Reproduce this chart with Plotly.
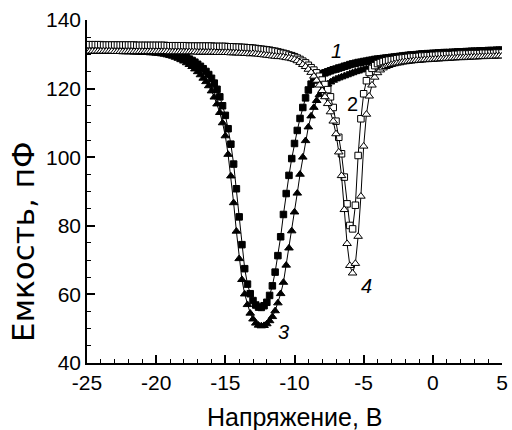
import numpy as np
import plotly.graph_objects as go

# Gate voltage sweep, 0.2 V step from -25 V to +5 V
voltage = np.round(np.linspace(-25.0, 5.0, 151), 1)

# Capacitance (pF) for the four measurements
cap_1 = [  # filled squares
    131.6, 131.6, 131.6, 131.6, 131.6, 131.5, 131.5, 131.5, 131.5, 131.5,
    131.5, 131.5, 131.4, 131.4, 131.4, 131.4, 131.4, 131.3, 131.3, 131.3,
    131.2, 131.2, 131.1, 131.1, 131.0, 131.0, 130.9, 130.8, 130.7, 130.6,
    130.4, 130.3, 130.1, 129.9, 129.7, 129.4, 129.0, 128.6, 128.2, 127.7,
    127.1, 126.5, 125.8, 125.0, 124.1, 123.0, 121.6, 119.8, 117.6, 115.0,
    112.2, 108.3, 103.8, 98.0, 90.8, 82.6, 74.5, 67.5, 63.0, 60.2,
    58.2, 56.9, 56.3, 56.2, 56.7, 57.7, 59.7, 62.5, 66.5, 71.3,
    76.8, 83.3, 89.4, 94.7, 99.6, 104.0, 107.8, 111.3, 114.5, 117.3,
    119.6, 121.3, 122.5, 123.3, 123.9, 124.3, 124.6, 124.9, 125.2, 125.5,
    125.7, 126.0, 126.2, 126.5, 126.7, 127.0, 127.2, 127.4, 127.6, 127.7,
    127.9, 128.0, 128.2, 128.3, 128.5, 128.6, 128.7, 128.8, 128.9, 129.0,
    129.1, 129.2, 129.3, 129.4, 129.5, 129.6, 129.7, 129.8, 129.8, 129.9,
    130.0, 130.1, 130.1, 130.2, 130.2, 130.3, 130.3, 130.4, 130.4, 130.5,
    130.5, 130.5, 130.6, 130.6, 130.7, 130.7, 130.7, 130.8, 130.8, 130.9,
    130.9, 130.9, 131.0, 131.0, 131.0, 131.1, 131.1, 131.1, 131.2, 131.2,
    131.2,
]
cap_2 = [  # open squares
    132.8, 132.8, 132.8, 132.8, 132.8, 132.8, 132.7, 132.7, 132.7, 132.7,
    132.7, 132.7, 132.7, 132.7, 132.7, 132.7, 132.7, 132.7, 132.6, 132.6,
    132.6, 132.6, 132.6, 132.6, 132.6, 132.6, 132.6, 132.6, 132.6, 132.5,
    132.5, 132.5, 132.5, 132.5, 132.5, 132.5, 132.5, 132.4, 132.4, 132.4,
    132.4, 132.4, 132.4, 132.4, 132.4, 132.4, 132.3, 132.3, 132.3, 132.3,
    132.3, 132.2, 132.2, 132.2, 132.1, 132.1, 132.0, 132.0, 131.9, 131.9,
    131.8, 131.7, 131.6, 131.5, 131.4, 131.3, 131.2, 131.0, 130.9, 130.7,
    130.5, 130.3, 130.1, 129.8, 129.6, 129.3, 128.9, 128.5, 128.0, 127.5,
    126.8, 126.1, 125.4, 124.6, 123.6, 122.5, 121.2, 119.7, 117.6, 114.5,
    110.5, 105.8, 101.0, 94.2, 86.4, 80.1, 79.1, 86.0, 100.5, 111.2,
    118.5, 122.3, 124.7, 125.9, 126.7, 127.3, 127.6, 127.9, 128.1, 128.3,
    128.4, 128.5, 128.7, 128.8, 128.9, 129.0, 129.1, 129.2, 129.3, 129.3,
    129.4, 129.5, 129.5, 129.6, 129.6, 129.7, 129.7, 129.8, 129.8, 129.8,
    129.9, 129.9, 129.9, 130.0, 130.0, 130.1, 130.1, 130.1, 130.1, 130.2,
    130.2, 130.2, 130.2, 130.3, 130.3, 130.3, 130.3, 130.3, 130.4, 130.4,
    130.4,
]
cap_3 = [  # filled triangles
    130.9, 130.9, 130.9, 130.9, 130.9, 130.9, 130.9, 130.8, 130.8, 130.8,
    130.8, 130.8, 130.8, 130.7, 130.7, 130.7, 130.7, 130.6, 130.6, 130.6,
    130.5, 130.5, 130.5, 130.4, 130.4, 130.3, 130.2, 130.1, 130.0, 129.8,
    129.6, 129.4, 129.1, 128.8, 128.4, 128.0, 127.5, 127.0, 126.4, 125.7,
    124.9, 124.0, 123.0, 122.0, 120.8, 119.3, 117.5, 115.5, 113.0, 110.0,
    106.2, 100.8, 94.5, 86.7, 78.4, 70.4, 64.3, 60.1, 57.0, 54.5,
    52.8, 51.6, 51.0, 50.8, 50.9, 51.4, 52.3, 53.5, 55.2, 57.5,
    60.2, 63.5, 68.5, 73.5, 78.5, 84.0, 89.5, 95.0, 100.0, 104.8,
    108.8, 112.0, 114.5, 116.5, 118.2, 119.5, 120.5, 121.3, 121.9, 122.4,
    122.8, 123.1, 123.4, 123.7, 124.0, 124.3, 124.6, 124.9, 125.1, 125.4,
    125.6, 125.8, 126.0, 126.2, 126.4, 126.6, 126.8, 127.0, 127.2, 127.3,
    127.5, 127.6, 127.8, 127.9, 128.1, 128.2, 128.3, 128.4, 128.6, 128.7,
    128.8, 128.9, 129.0, 129.1, 129.2, 129.3, 129.4, 129.5, 129.5, 129.6,
    129.7, 129.8, 129.8, 129.9, 129.9, 130.0, 130.1, 130.1, 130.2, 130.2,
    130.3, 130.3, 130.4, 130.4, 130.4, 130.5, 130.5, 130.6, 130.6, 130.6,
    130.7,
]
cap_4 = [  # open triangles
    130.9, 130.9, 130.9, 130.9, 130.9, 130.9, 130.9, 130.9, 130.9, 130.9,
    130.8, 130.8, 130.8, 130.8, 130.8, 130.8, 130.8, 130.8, 130.8, 130.8,
    130.8, 130.8, 130.8, 130.8, 130.8, 130.8, 130.8, 130.8, 130.8, 130.8,
    130.7, 130.7, 130.7, 130.7, 130.7, 130.7, 130.7, 130.7, 130.7, 130.7,
    130.6, 130.6, 130.6, 130.6, 130.6, 130.6, 130.6, 130.5, 130.5, 130.5,
    130.5, 130.5, 130.4, 130.4, 130.4, 130.3, 130.3, 130.2, 130.2, 130.1,
    130.2, 130.1, 130.0, 129.9, 129.8, 129.7, 129.6, 129.5, 129.4, 129.3,
    129.3, 129.2, 129.0, 128.9, 128.7, 128.5, 128.1, 127.6, 127.0, 126.4,
    125.6, 124.7, 123.6, 122.4, 121.0, 119.4, 117.6, 115.6, 113.2, 110.5,
    106.8, 101.5, 94.6, 84.7, 74.8, 68.4, 66.2, 69.0, 76.9, 88.6,
    103.2, 112.5, 117.8, 121.0, 123.3, 124.6, 125.4, 126.0, 126.4, 126.7,
    127.0, 127.2, 127.4, 127.5, 127.7, 127.8, 127.9, 128.0, 128.1, 128.2,
    128.2, 128.3, 128.4, 128.4, 128.5, 128.5, 128.6, 128.6, 128.7, 128.7,
    128.8, 128.8, 128.9, 128.9, 129.0, 129.0, 129.0, 129.1, 129.1, 129.2,
    129.2, 129.2, 129.3, 129.3, 129.3, 129.4, 129.4, 129.4, 129.5, 129.5,
    129.5,
]

# Curve labels: (text, voltage, capacitance, italic)
curve_labels = [
    ("1", -6.97, 130.9, True),
    ("2", -5.83, 115.4, False),
    ("3", -10.82, 49.1, True),
    ("4", -4.76, 62.5, True),
]

x_ticks = [-25, -20, -15, -10, -5, 0, 5]
y_ticks = [40, 60, 80, 100, 120, 140]

FONT = "Liberation Sans, Arial, sans-serif"

fig = go.Figure()

series = [
    (cap_1, "square", "black", 6.5),
    (cap_3, "triangle-up", "black", 7.5),
    (cap_2, "square", "white", 6.5),
    (cap_4, "triangle-up", "white", 7.5),
]
for values, symbol, fill, size in series:
    fig.add_trace(go.Scatter(
        x=voltage, y=values, mode="lines+markers",
        line=dict(color="black", width=1),
        marker=dict(symbol=symbol, size=size, color=fill,
                    line=dict(color="black", width=1)),
        showlegend=False,
    ))

for text, xv, yv, italic in curve_labels:
    fig.add_annotation(
        x=xv, y=yv, text=text, showarrow=False,
        font=dict(family=FONT, size=20, color="black",
                  style="italic" if italic else "normal"),
    )

# axis titles
fig.add_annotation(
    xref="paper", yref="paper", x=0.5, y=-0.158, text="Напряжение, В",
    showarrow=False, xanchor="center", yanchor="middle",
    font=dict(family=FONT, size=25, color="black"),
)
fig.add_annotation(
    xref="paper", yref="paper", x=0, y=0.353, xshift=-64, text="Емкость, пФ",
    textangle=-90, showarrow=False, xanchor="center", yanchor="middle",
    font=dict(family="DejaVu Sans, sans-serif", size=31, color="black"),
)

axis_common = dict(
    showline=True, linecolor="black", linewidth=1.5,
    ticks="inside", ticklen=8, tickwidth=1.5, tickcolor="black",
    showgrid=False, zeroline=False, mirror=False,
    ticklabeloverflow="allow",
    tickfont=dict(family=FONT, size=21, color="black"),
)

fig.update_xaxes(
    range=[-25, 5], tickvals=x_ticks, ticktext=[str(v) for v in x_ticks],
    minor=dict(dtick=1, ticklen=4, ticks="inside", tickcolor="black", tickwidth=1.2),
    **axis_common,
)
fig.update_yaxes(
    range=[40, 140], tickvals=y_ticks, ticktext=[str(v) for v in y_ticks],
    minor=dict(dtick=5, ticklen=4, ticks="inside", tickcolor="black", tickwidth=1.2),
    **axis_common,
)

fig.update_layout(
    width=512, height=430,
    margin=dict(l=87, r=4, t=20, b=67),
    plot_bgcolor="white", paper_bgcolor="white",
)

fig.write_html("out.html")
